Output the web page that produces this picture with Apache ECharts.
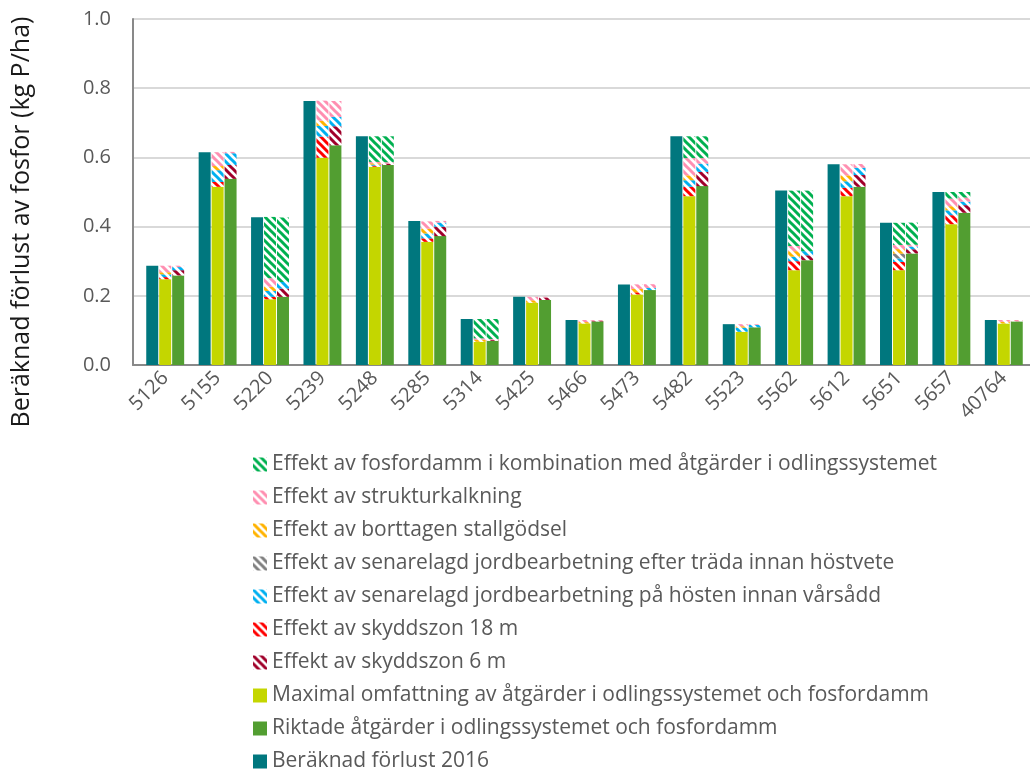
<!DOCTYPE html>
<html>
<head>
<meta charset="utf-8">
<title>Fosforförlust</title>
<script src="https://cdn.jsdelivr.net/npm/echarts@6/dist/echarts.min.js"></script>
<style>
  html, body { margin: 0; padding: 0; background: #fff; }
  #chart { width: 1030px; height: 771px; }
</style>
</head>
<body>
<div id="chart"></div>
<script>
const categories = ['5126', '5155', '5220', '5239', '5248', '5285', '5314', '5425', '5466',
  '5473', '5482', '5523', '5562', '5612', '5651', '5657', '40764'];
const yTicks = [0, 0.2, 0.4, 0.6, 0.8, 1.0];

const total2016 = [0.287, 0.615, 0.427, 0.763, 0.661, 0.416, 0.133, 0.197, 0.130, 0.233, 0.661, 0.118, 0.504, 0.580, 0.411, 0.500, 0.130];

// maximal omfattning + effekter staplade ovanpå
const maxBase   = [0.248, 0.515, 0.190, 0.599, 0.573, 0.356, 0.067, 0.180, 0.120, 0.204, 0.488, 0.096, 0.274, 0.488, 0.274, 0.407, 0.120];
const maxZon18  = [0.006, 0.014, 0.007, 0.061, 0.003, 0.010, 0, 0, 0, 0.006, 0.027, 0, 0.026, 0.024, 0.024, 0.026, 0];
const maxVar    = [0.008, 0.034, 0.017, 0.031, 0.003, 0.014, 0, 0, 0, 0, 0.019, 0.012, 0.013, 0.019, 0.010, 0.014, 0];
const maxHost   = [0, 0, 0, 0, 0, 0, 0, 0, 0, 0, 0, 0, 0, 0, 0.014, 0, 0];
const maxGodsel = [0.006, 0.012, 0.012, 0.015, 0.004, 0.014, 0.006, 0.007, 0.004, 0.010, 0.014, 0.004, 0.016, 0.017, 0.013, 0.012, 0.005];
const maxKalk   = [0.019, 0.040, 0.025, 0.058, 0.004, 0.021, 0.004, 0.010, 0.006, 0.013, 0.050, 0.006, 0.015, 0.032, 0.012, 0.022, 0.005];
const maxDamm   = [0, 0, 0.177, 0, 0.074, 0, 0.056, 0, 0, 0, 0.063, 0, 0.160, 0, 0.064, 0.019, 0];

// riktade åtgärder + effekter
const rikBase = [0.259, 0.538, 0.197, 0.635, 0.578, 0.3725, 0.070, 0.188, 0.126, 0.2165, 0.517, 0.109, 0.303, 0.515, 0.3225, 0.440, 0.126];
const rikZon6 = [0.015, 0.040, 0.024, 0.055, 0.004, 0.027, 0.003, 0.007, 0.002, 0, 0.041, 0, 0.014, 0.034, 0.012, 0.022, 0];
const rikVar  = [0.009, 0.034, 0.019, 0.027, 0, 0.012, 0, 0, 0, 0.006, 0.024, 0.007, 0.012, 0.021, 0.008, 0.010, 0];
const rikKalk = [0.004, 0.004, 0, 0.046, 0.004, 0.005, 0.002, 0.002, 0.002, 0.011, 0.016, 0.002, 0, 0.011, 0.005, 0.012, 0.004];
const rikDamm = [0, 0, 0.186, 0, 0.075, 0, 0.058, 0, 0, 0, 0.063, 0, 0.175, 0, 0.064, 0.016, 0];

const N_DAMM = 'Effekt av fosfordamm i kombination med åtgärder i odlingssystemet';
const N_KALK = 'Effekt av strukturkalkning';
const N_GODSEL = 'Effekt av borttagen stallgödsel';
const N_HOST = 'Effekt av senarelagd jordbearbetning efter träda innan höstvete';
const N_VAR = 'Effekt av senarelagd jordbearbetning på hösten innan vårsådd';
const N_ZON18 = 'Effekt av skyddszon 18 m';
const N_ZON6 = 'Effekt av skyddszon 6 m';
const N_MAX = 'Maximal omfattning av åtgärder i odlingssystemet och fosfordamm';
const N_RIK = 'Riktade åtgärder i odlingssystemet och fosfordamm';
const N_TOT = 'Beräknad förlust 2016';

// vit bakgrund med breda diagonala ränder
function hatch(color) {
  var c = document.createElement('canvas');
  c.width = 8;
  c.height = 8;
  var ctx = c.getContext('2d');
  ctx.fillStyle = '#ffffff';
  ctx.fillRect(0, 0, 8, 8);
  ctx.strokeStyle = color;
  ctx.lineWidth = 3;
  ctx.beginPath();
  for (var k = -8; k <= 8; k += 8) {
    ctx.moveTo(-2, -2 + k);
    ctx.lineTo(10, 10 + k);
  }
  ctx.stroke();
  return { image: c, repeat: 'repeat' };
}

const colors = {
  tot: '#00777e',
  max: '#c4d600',
  rik: '#529e31',
  damm: hatch('#00b050'),
  kalk: hatch('#ff8fb1'),
  godsel: hatch('#ffb300'),
  host: hatch('#808080'),
  vart: hatch('#00b0f0'),
  zon18: hatch('#ff0000'),
  zon6: hatch('#a0002a')
};

function bar(name, stack, data, color) {
  return {
    name: name,
    type: 'bar',
    xAxisIndex: 1,
    yAxisIndex: 1,
    stack: stack,
    barWidth: 12,
    barGap: '8%',
    itemStyle: { color: color },
    data: data
  };
}

const chart = echarts.init(document.getElementById('chart'), null, { renderer: 'canvas' });

var option = {
  animation: false,
  backgroundColor: '#fff',
  textStyle: { fontFamily: 'Open Sans' },
  grid: [
    { left: 133, right: 0, top: 19, bottom: 406 },
    { left: 139, right: 0, top: 19, bottom: 406 }
  ],
  legend: {
    orient: 'vertical',
    left: 253,
    top: 454,
    height: 360,
    padding: 0,
    itemWidth: 14,
    itemHeight: 14,
    itemGap: 12,
    icon: 'rect',
    selectedMode: false,
    textStyle: { color: '#595959', fontSize: 21, lineHeight: 21, fontFamily: 'Open Sans' },
    data: [N_DAMM, N_KALK, N_GODSEL, N_HOST, N_VAR, N_ZON18, N_ZON6, N_MAX, N_RIK, N_TOT]
  },
  xAxis: [
    {
      gridIndex: 0,
      type: 'category',
      data: [''],
      axisLine: { lineStyle: { color: '#898989', width: 2 } },
      axisTick: { show: false },
      axisLabel: { show: false }
    },
    {
      gridIndex: 1,
      type: 'category',
      data: categories,
      axisLine: { show: false },
      axisTick: { show: false },
      axisLabel: {
        rotate: 45,
        margin: 10,
        interval: 0,
        color: '#595959',
        fontSize: 20,
        fontFamily: 'Open Sans'
      }
    }
  ],
  yAxis: [
    {
      gridIndex: 0,
      type: 'value',
      min: yTicks[0],
      max: yTicks[yTicks.length - 1],
      interval: 0.2,
      axisLine: { show: true, lineStyle: { color: '#898989', width: 2 } },
      axisTick: { show: false },
      axisLabel: {
        margin: 22,
        color: '#595959',
        fontSize: 20,
        fontFamily: 'Open Sans',
        formatter: function (v) { return v.toFixed(1); }
      },
      splitLine: { lineStyle: { color: '#d9d9d9', width: 2 } }
    },
    {
      gridIndex: 1,
      type: 'value',
      min: 0,
      max: 1,
      show: false
    }
  ],
  graphic: [{
    type: 'text',
    x: 22,
    y: 222,
    rotation: Math.PI / 2,
    style: {
      text: 'Beräknad förlust av fosfor (kg P/ha)',
      fill: '#1a1a1a',
      fontSize: 25,
      fontFamily: 'Open Sans',
      align: 'center',
      verticalAlign: 'middle'
    }
  }],
  series: [
    bar(N_TOT, 'tot', total2016, colors.tot),

    bar(N_MAX, 'max', maxBase, colors.max),
    bar(N_ZON18, 'max', maxZon18, colors.zon18),
    bar(N_VAR, 'max', maxVar, colors.vart),
    bar(N_HOST, 'max', maxHost, colors.host),
    bar(N_GODSEL, 'max', maxGodsel, colors.godsel),
    bar(N_KALK, 'max', maxKalk, colors.kalk),
    bar(N_DAMM, 'max', maxDamm, colors.damm),

    bar(N_RIK, 'rik', rikBase, colors.rik),
    bar(N_ZON6, 'rik', rikZon6, colors.zon6),
    bar(N_VAR, 'rik', rikVar, colors.vart),
    bar(N_KALK, 'rik', rikKalk, colors.kalk),
    bar(N_DAMM, 'rik', rikDamm, colors.damm)
  ]
};

chart.setOption(option);
</script>
</body>
</html>
